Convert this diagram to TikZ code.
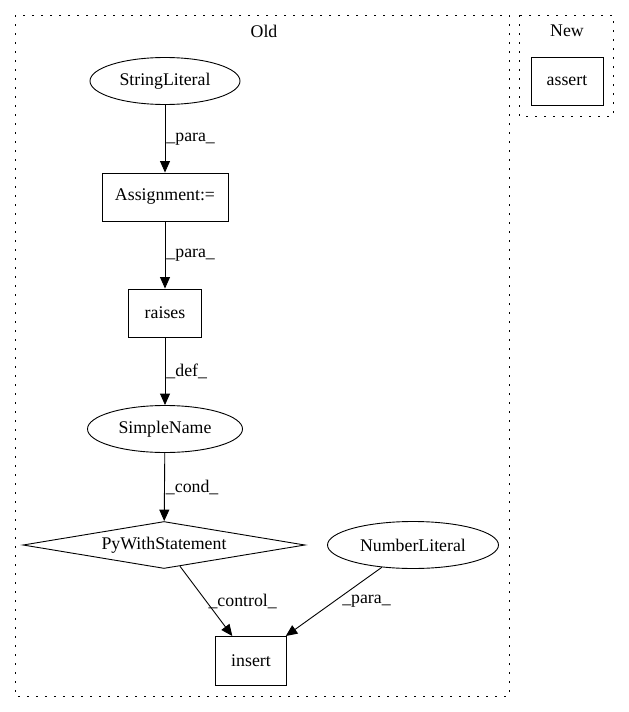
\documentclass[tikz,border=0pt]{standalone}
\usepackage{fontspec}
\setmainfont{Liberation Serif}
\usetikzlibrary{shapes.geometric,arrows.meta}
\def\oldcluster{(15,15) rectangle (509,696)}
\def\newcluster{(519,15) rectangle (613,116)}

\begin{document}
\begin{tikzpicture}[x=1pt,y=-1pt,
    every node/.style={font=\fontsize{17.8}{20}\selectfont},
    box/.style={draw,line width=0.9pt,minimum height=48pt,inner sep=2pt},
    oval/.style={draw,ellipse,line width=0.9pt,minimum height=47pt,inner sep=1pt},
    lbl/.style={anchor=west,inner sep=1pt},
    edge/.style={line width=0.9pt,-{Triangle[length=11.5pt,width=10pt]}}]
   \useasboundingbox (0,0) rectangle (629,712);
   \draw[line width=1pt,dash pattern=on 1.6pt off 7.4pt] \oldcluster;
   \draw[line width=1pt,dash pattern=on 1.6pt off 7.4pt] \newcluster;
   \node (old) at (264,31) {Old};
   \node (new) at (567,31) {New};
   \node[box,minimum width=72pt] (assert) at (567,81) {assert};
   \node[oval,minimum width=150pt] (strlit) at (165,81) {StringLiteral};
   \node[box,minimum width=126pt] (assign) at (165,197) {Assignment:=};
   \node[box,minimum width=73pt] (raises) at (165,313) {raises};
   \node[oval,minimum width=155pt] (simple) at (165,429) {SimpleName};
   \node[draw,diamond,line width=0.9pt,shape aspect=6,inner sep=0pt,
         minimum width=282pt,minimum height=47pt] (pywith) at (164,545) {PyWithStatement};
   \node[oval,minimum width=171pt] (numlit) at (413,545) {NumberLiteral};
   \node[box,minimum width=71pt,minimum height=49pt] (insert) at (251,661) {insert};
   \draw[edge] (strlit) -- node[lbl] {\_para\_} (assign);
   \draw[edge] (assign) -- node[lbl] {\_para\_} (raises);
   \draw[edge] (raises) -- node[lbl] {\_def\_} (simple);
   \draw[edge] (simple) -- node[lbl] {\_cond\_} (pywith);
   \draw[edge] (pywith) -- node[lbl,xshift=1pt] {\_control\_} (insert);
   \draw[edge] (numlit) -- node[lbl,xshift=7pt] {\_para\_} (insert);
\end{tikzpicture}
\end{document}
